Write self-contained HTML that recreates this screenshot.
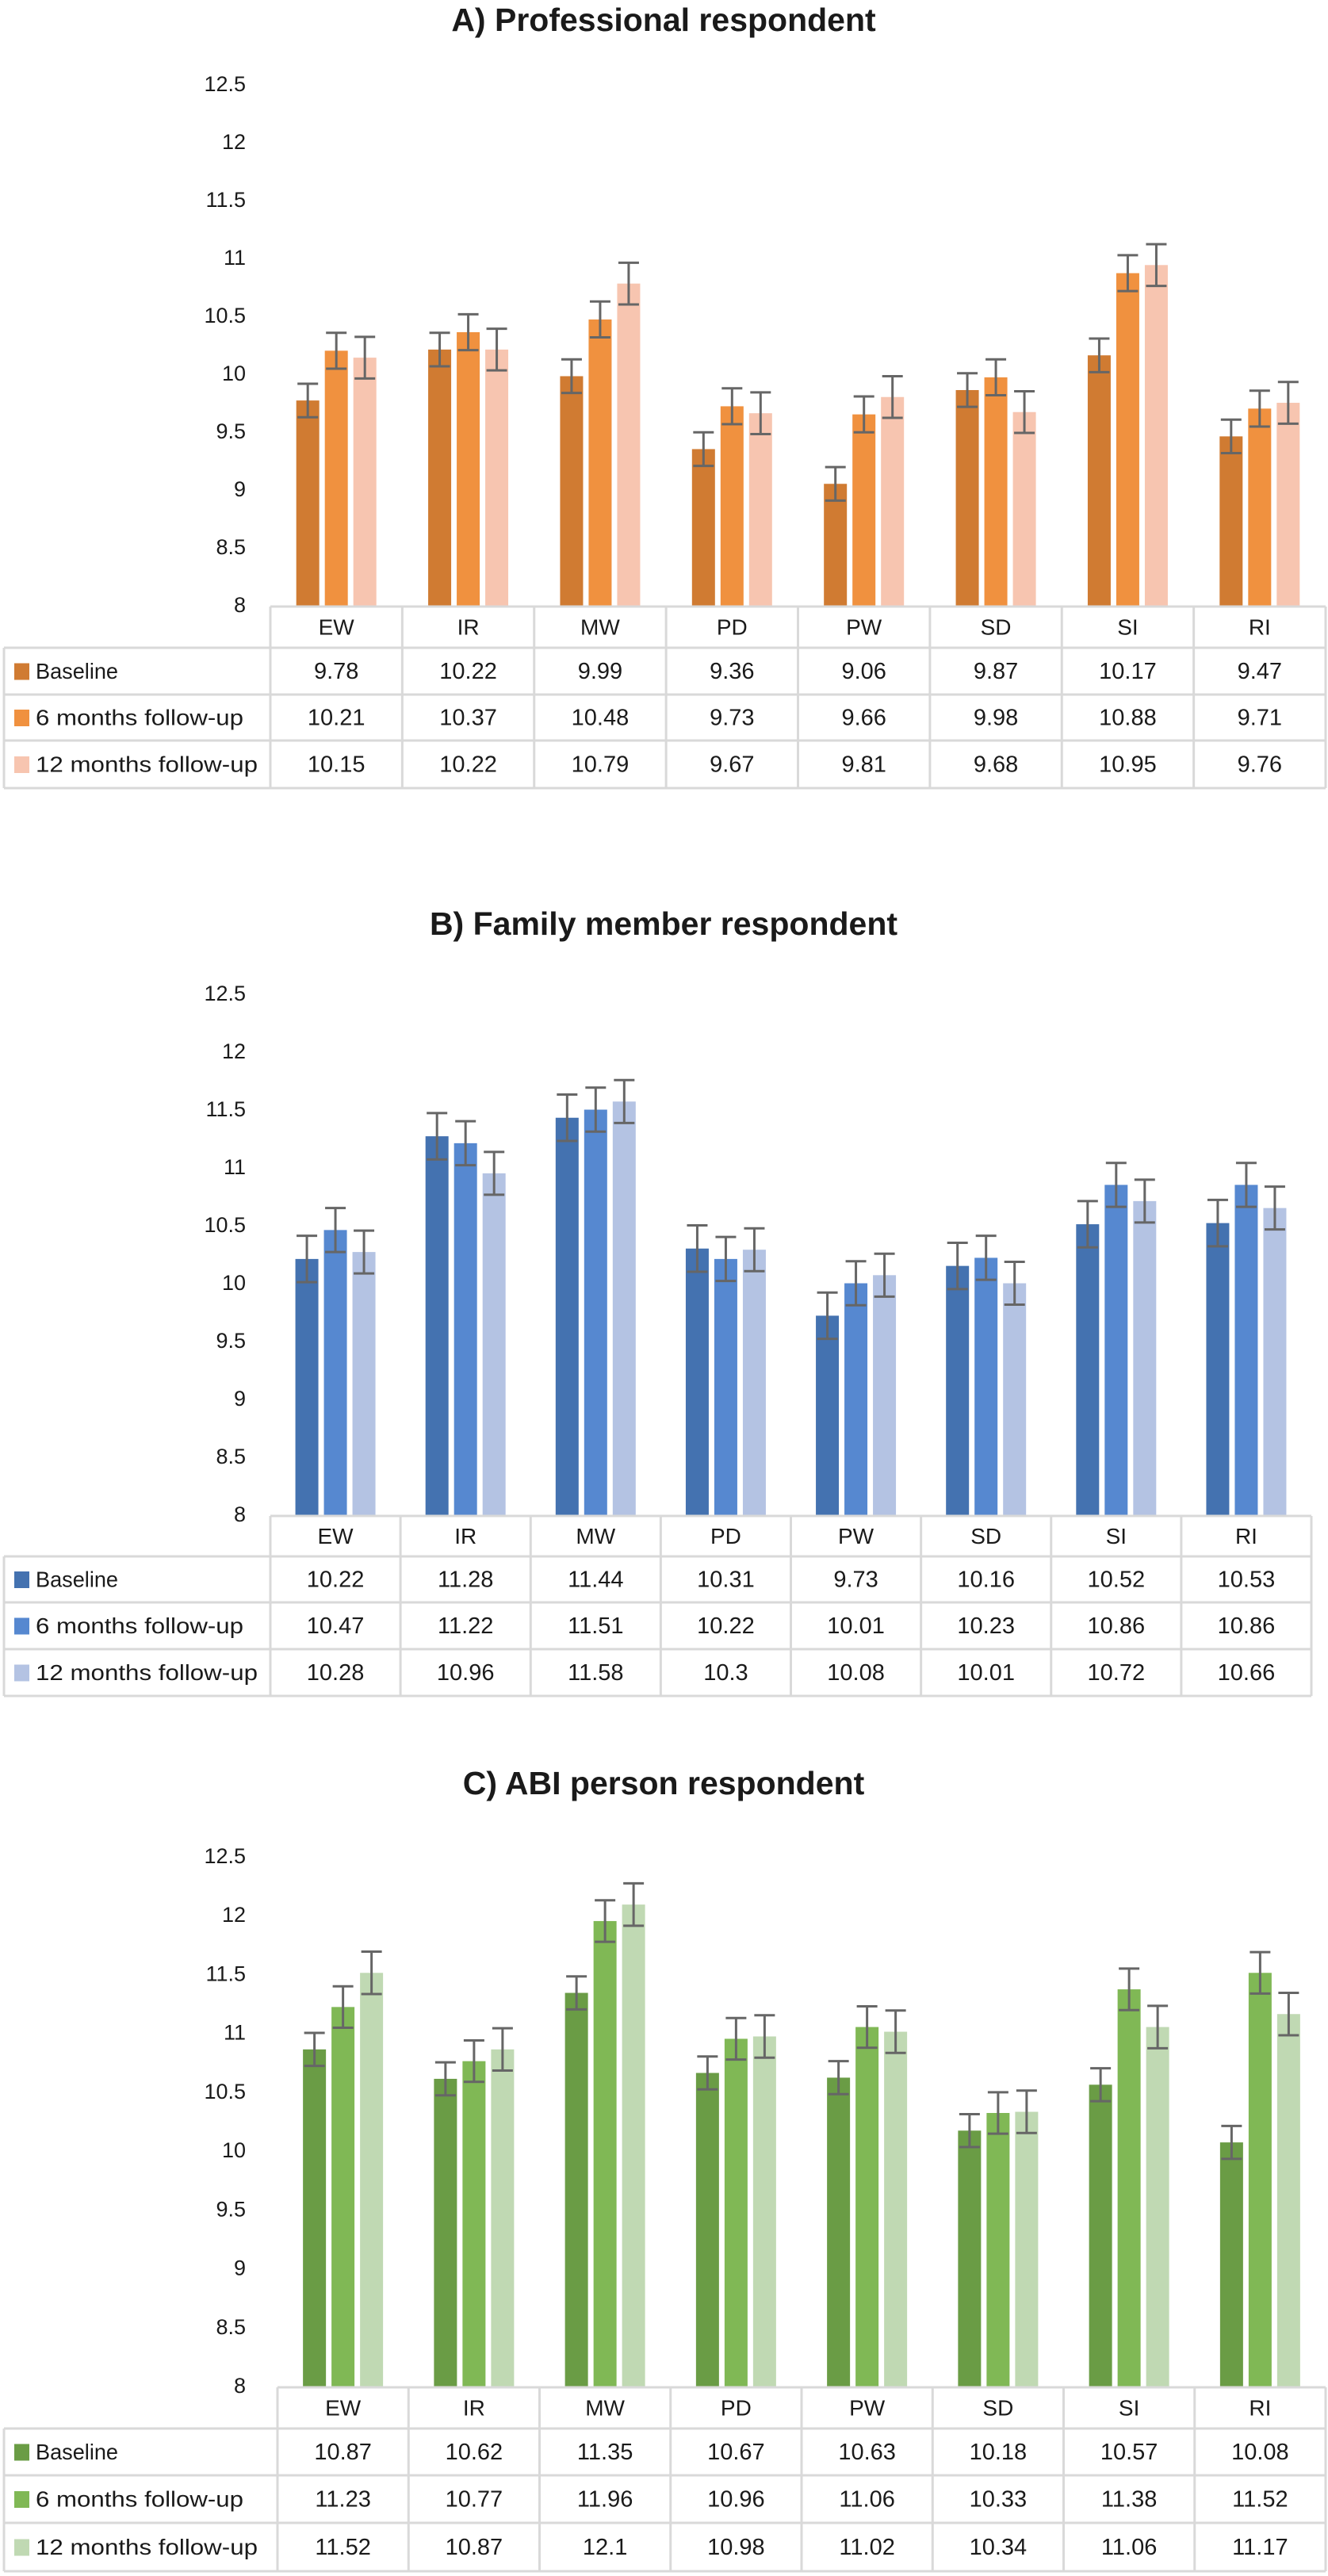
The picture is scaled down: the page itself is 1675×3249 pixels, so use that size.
<!DOCTYPE html>
<html><head><meta charset="utf-8"><style>
html,body{margin:0;padding:0;background:#fff;}
svg{display:block;}
text{font-family:"Liberation Sans",sans-serif;fill:#1a1a1a;}
</style></head>
<body>
<svg id="root" width="1675" height="3249" viewBox="0 0 1675 3249" xmlns="http://www.w3.org/2000/svg"></svg>
<script>
const categories = ["EW","IR","MW","PD","PW","SD","SI","RI"];
const seriesNames = ["Baseline","6 months follow-up","12 months follow-up"];
const yTicks = [8,8.5,9,9.5,10,10.5,11,11.5,12,12.5];

const profBaseline = [9.78,10.22,9.99,9.36,9.06,9.87,10.17,9.47];
const prof6m = [10.21,10.37,10.48,9.73,9.66,9.98,10.88,9.71];
const prof12m = [10.15,10.22,10.79,9.67,9.81,9.68,10.95,9.76];
const profErr = [0.145,0.155,0.18];

const famBaseline = [10.22,11.28,11.44,10.31,9.73,10.16,10.52,10.53];
const fam6m = [10.47,11.22,11.51,10.22,10.01,10.23,10.86,10.86];
const fam12m = [10.28,10.96,11.58,10.3,10.08,10.01,10.72,10.66];
const famErr = [0.2,0.19,0.185];

const abiBaseline = [10.87,10.62,11.35,10.67,10.63,10.18,10.57,10.08];
const abi6m = [11.23,10.77,11.96,10.96,11.06,10.33,11.38,11.52];
const abi12m = [11.52,10.87,12.1,10.98,11.02,10.34,11.06,11.17];
const abiErr = [0.14,0.176,0.18];

const NS="http://www.w3.org/2000/svg";
const root=document.getElementById('root');
function mk(tag,attrs,parent,txt){
  const e=document.createElementNS(NS,tag);
  for(const k in attrs)e.setAttribute(k,attrs[k]);
  if(txt!==undefined)e.textContent=txt;
  parent.appendChild(e);return e;
}

function drawChart(cfg){
  const g=mk('g',{},root);
  
  
  const t=mk('text',{x:837,y:cfg.titleY,'text-anchor':'middle','dominant-baseline':'middle','font-size':41,'font-weight':'bold'},g,cfg.title);
  
  
  const yS=v=>cfg.y8-(v-8)*cfg.ppu;
  const cw=(cfg.right-cfg.left)/categories.length;
  const xC=i=>cfg.left+cw*(i+0.5);
  yTicks.forEach(v=>{
    const tl=mk('text',{x:310,y:yS(v),'text-anchor':'end','dominant-baseline':'middle','font-size':27},g,String(v));
    
    
  });
  const offs=[-36,0,36];const bw=29;
  cfg.series.forEach((arr,s)=>{
    arr.forEach((v,i)=>{
      const cx=xC(i)+offs[s];
      const r=mk('rect',{x:cx-bw/2,y:yS(v),width:bw,height:yS(8)-yS(v),fill:cfg.colors[s]},g);
      
      
    });
  });
  cfg.series.forEach((arr,s)=>{
    arr.forEach((v,i)=>{
      const cx=xC(i)+offs[s];const e=cfg.err[s];
      const eb=mk('path',{d:`M${cx} ${yS(v+e)}V${yS(v-e)}M${cx-13} ${yS(v+e)}H${cx+13}M${cx-13} ${yS(v-e)}H${cx+13}`,stroke:'#666',"stroke-width":3,fill:'none'},g);
      
      
    });
  });
  const rows=cfg.rows; const lc='#d9d9d9';
  const tb=mk('g',{stroke:lc,'stroke-width':3,fill:'none'},g);
  
  
  mk('line',{x1:cfg.left,y1:cfg.y8,x2:cfg.right,y2:cfg.y8},tb);
  mk('line',{x1:cfg.tl,y1:rows[0],x2:cfg.right,y2:rows[0]},tb);
  for(let r=1;r<rows.length;r++) mk('line',{x1:cfg.tl,y1:rows[r],x2:cfg.right,y2:rows[r]},tb);
  mk('line',{x1:cfg.tl,y1:rows[0],x2:cfg.tl,y2:rows[3]},tb);
  for(let i=0;i<=categories.length;i++) mk('line',{x1:cfg.left+cw*i,y1:cfg.y8,x2:cfg.left+cw*i,y2:rows[3]},tb);
  categories.forEach((c,i)=>{
    const ct=mk('text',{x:xC(i),y:(cfg.y8+rows[0])/2+2,'text-anchor':'middle','dominant-baseline':'middle','font-size':28},g,c);
    
    
  });
  cfg.series.forEach((arr,s)=>{
    const cy=(rows[s]+rows[s+1])/2+2;
    const sw=mk('rect',{x:cfg.tl+13,y:cy-12,width:19,height:21,fill:cfg.colors[s]},g);
    
    
    const lt=mk('text',{x:cfg.tl+40,y:cy,'dominant-baseline':'middle','font-size':28,textLength:s===0?104:(s===1?262:280),lengthAdjust:'spacingAndGlyphs'},g,seriesNames[s]);
    
    
    arr.forEach((v,i)=>{
      const vt=mk('text',{x:xC(i),y:cy,'text-anchor':'middle','dominant-baseline':'middle','font-size':29},g,String(v));
      
      
    });
  });
}

drawChart({key:'professional',title:'A) Professional respondent',titleY:28,y8:765,ppu:146,left:341,right:1672,tl:5,
  rows:[817,876,934,994],series:[profBaseline,prof6m,prof12m],err:profErr,colors:['#d07b32','#f0913f','#f7c5b0']});
drawChart({key:'family',title:'B) Family member respondent',titleY:1168,y8:1912,ppu:146,left:341,right:1654,tl:5,
  rows:[1963,2021,2080,2139],series:[famBaseline,fam6m,fam12m],err:famErr,colors:['#4472b0','#5688d0','#b4c3e3']});
drawChart({key:'abi',title:'C) ABI person respondent',titleY:2252,y8:3011,ppu:148.5,left:350,right:1672,tl:5,
  rows:[3063,3122,3182,3243],series:[abiBaseline,abi6m,abi12m],err:abiErr,colors:['#6a9c45','#80b855','#c0d9b3']});
</script>
</body></html>
